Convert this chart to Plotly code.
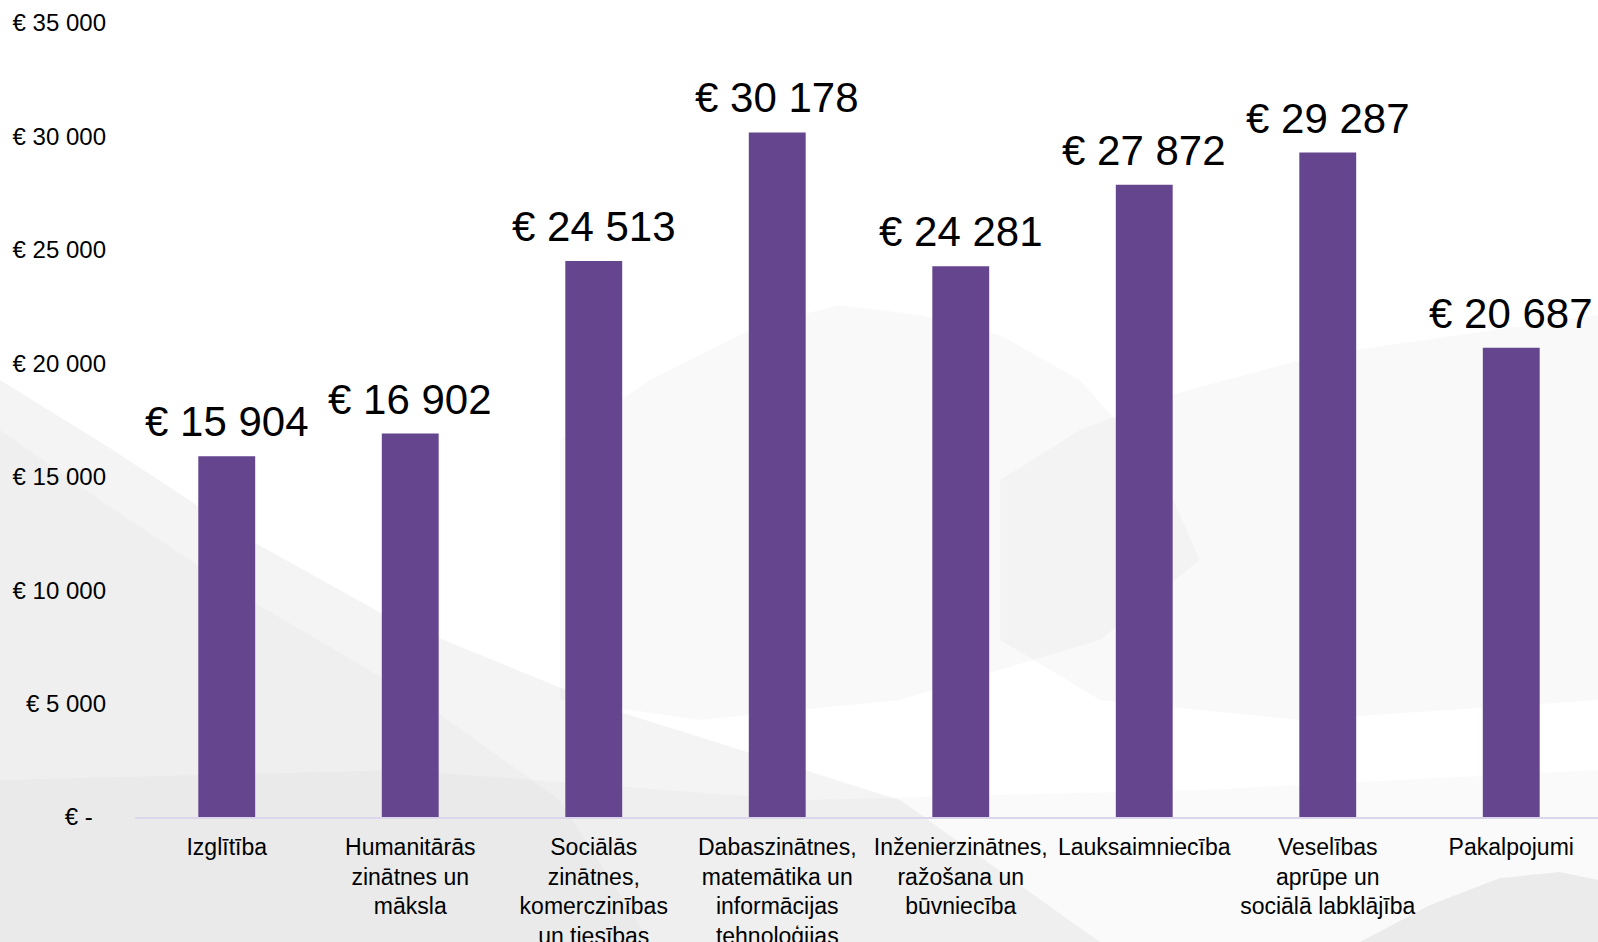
import plotly.graph_objects as go

categories = [
    "Izglītība",
    "Humanitārās<br>zinātnes un<br>māksla",
    "Sociālās<br>zinātnes,<br>komerczinības<br>un tiesības",
    "Dabaszinātnes,<br>matemātika un<br>informācijas<br>tehnoloģijas",
    "Inženierzinātnes,<br>ražošana un<br>būvniecība",
    "Lauksaimniecība",
    "Veselības<br>aprūpe un<br>sociālā labklājība",
    "Pakalpojumi",
]
values = [15904, 16902, 24513, 30178, 24281, 27872, 29287, 20687]
tick_vals = [0, 5000, 10000, 15000, 20000, 25000, 30000, 35000]
tick_text = ["€ -\u00a0\u00a0", "€ 5 000", "€ 10 000", "€ 15 000", "€ 20 000",
             "€ 25 000", "€ 30 000", "€ 35 000"]

FONT = "Liberation Sans, Arial, sans-serif"

def fmt(v):
    return "€ " + f"{v:,}".replace(",", " ")

labels = [fmt(v) for v in values]
xs = list(range(len(categories)))

W, H = 1598, 942
ML, MR, MT, MB = 135, 0, 23, 125
PW, PH = W - ML - MR, H - MT - MB

fig = go.Figure()
fig.add_trace(go.Bar(
    x=xs, y=values, width=0.31,
    marker=dict(color="#66458F", line=dict(width=0)),
    hoverinfo="skip",
))

annotations = []
for x, v, lab in zip(xs, values, labels):
    annotations.append(dict(
        x=x, y=v, xref="x", yref="y", text=lab, showarrow=False,
        yanchor="bottom", yshift=9,
        font=dict(size=42, color="#000000", family=FONT),
    ))

# faint ink-wash mountain backdrop (decorative), given in page pixels
def px(x, y):
    return f"{(x - ML) / PW:.4f},{(H - MB - y) / PH:.4f}"

def poly(points):
    return "M " + " L ".join(px(x, y) for x, y in points) + " Z"

backdrop = [
    ([(0, 380), (110, 448), (250, 540), (390, 618), (620, 712), (900, 800), (1100, H), (0, H)], "rgba(0,0,0,0.045)"),
    ([(0, 430), (100, 500), (250, 600), (420, 700), (560, 800), (650, H), (0, H)], "rgba(0,0,0,0.02)"),
    ([(560, 440), (650, 380), (760, 325), (840, 305), (920, 315), (1000, 335), (1080, 380),
      (1160, 470), (1200, 560), (1100, 640), (900, 700), (700, 720), (560, 700)], "rgba(0,0,0,0.022)"),
    ([(1000, 480), (1080, 430), (1170, 395), (1320, 355), (1480, 332), (W, 315), (W, 700),
      (1300, 720), (1100, 700), (1000, 640)], "rgba(0,0,0,0.025)"),
    ([(0, 780), (400, 770), (800, 800), (1200, 790), (W, 770), (W, H), (0, H)], "rgba(0,0,0,0.018)"),
    ([(1360, H), (1430, 905), (1500, 878), (1560, 872), (W, 880), (W, H)], "rgba(0,0,0,0.06)"),
]
shapes = [dict(type="path", xref="paper", yref="paper", path=poly(p),
               fillcolor=c, line=dict(width=0), layer="below") for p, c in backdrop]

step_px = 183.5
fig.update_layout(
    width=W, height=H,
    margin=dict(l=ML, r=MR, t=MT, b=MB, autoexpand=False),
    paper_bgcolor="#FFFFFF", plot_bgcolor="rgba(0,0,0,0)",
    showlegend=False,
    font=dict(family=FONT, color="#000000"),
    shapes=shapes,
    annotations=annotations,
    xaxis=dict(
        tickmode="array", tickvals=xs, ticktext=categories,
        range=[-0.5, -0.5 + PW / step_px], showgrid=False, zeroline=False,
        showline=True, linecolor="#DCD6EC", linewidth=2,
        ticks="", tickfont=dict(size=23, color="#000000"), tickangle=0,
        ticklabelstandoff=8, fixedrange=True, automargin=False,
    ),
    yaxis=dict(
        range=[0, 35000], tickmode="array", tickvals=tick_vals, ticktext=tick_text,
        showgrid=False, zeroline=False, showline=False, ticks="",
        tickfont=dict(size=24, color="#000000"), ticklabelstandoff=28,
        fixedrange=True, automargin=False,
    ),
)

fig.write_html(
    "out.html",
    config={"displayModeBar": False, "responsive": False},
    post_script="document.body.style.margin='0';document.body.style.overflow='hidden';",
)
